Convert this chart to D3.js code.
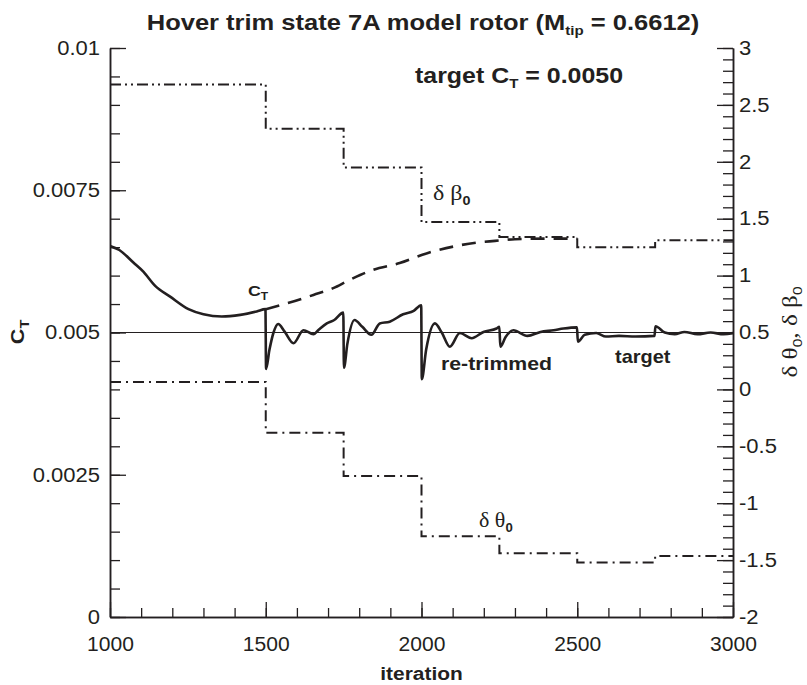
<!DOCTYPE html>
<html><head><meta charset="utf-8">
<script src="https://cdn.jsdelivr.net/npm/d3@7"></script>
<style>html,body{margin:0;padding:0;background:#fff}</style>
</head><body>
<script>
// ---------- data ----------
const ctIter = [1000,1030,1075,1107,1145,1193,1252,1300,1359,1418,1471,1499,
  1501,1512,1525,1540,1560,1589,1621,1653,1670,1696,1720,1749,
  1751,1762,1785,1810,1839,1866,1898,1941,1975,1999,
  2001,2015,2043,2065,2091,2123,2161,2199,2241,2250,
  2253,2270,2295,2340,2382,2424,2456,2499,
  2502,2524,2561,2592,2634,2687,2748,
  2751,2781,2813,2844,2886,2928,2970,3000];
const ctVal = [0.00652,0.00645,0.00623,0.00607,0.00582,0.00563,0.00541,0.00532,0.00528,0.00531,0.00537,0.00541,
  0.00436,0.00470,0.00500,0.00515,0.00502,0.00481,0.00504,0.00497,0.00505,0.00516,0.00522,0.00535,
  0.00438,0.00480,0.00522,0.00510,0.00496,0.00516,0.00519,0.00532,0.00538,0.00548,
  0.00418,0.00470,0.00516,0.00500,0.00475,0.00499,0.00490,0.00501,0.00507,0.00510,
  0.00475,0.00492,0.00504,0.00494,0.00501,0.00504,0.00507,0.00509,
  0.00484,0.00496,0.00499,0.00493,0.00494,0.00493,0.00494,
  0.00511,0.00500,0.00497,0.00501,0.00497,0.00500,0.00497,0.00499];
const predIter = [1500,1567,1653,1717,1764,1803,1844,1930,2016,2102,2177,2236,2300,2400,2500];
const predVal  = [0.00541,0.00551,0.00566,0.00578,0.00591,0.00601,0.00610,0.00622,0.00639,0.00651,0.00658,0.00661,0.00664,0.00665,0.00665];
const stepIter = [1000,1500,1750,2000,2250,2500,2750,3000];
const betaVal  = [2.68,2.29,1.95,1.47,1.34,1.25,1.31];
const thetaVal = [0.065,-0.38,-0.76,-1.29,-1.44,-1.52,-1.465];
const targetCT = 0.005;
const xTicks = [1000,1500,2000,2500,3000];
const xTickLabels = ["1000","1500","2000","2500","3000"];
const leftTicks = [0,0.0025,0.005,0.0075,0.01];
const leftTickLabels = ["0","0.0025","0.005","0.0075","0.01"];
const rightTicks = [-2,-1.5,-1,-0.5,0,0.5,1,1.5,2,2.5,3];
const rightTickLabels = ["-2","-1.5","-1","-0.5","0","0.5","1","1.5","2","2.5","3"];

// ---------- layout ----------
const W = 807, H = 685;
const L = 110, R = 733, T = 48, B = 617;
const ink = "#231f20";
const sans = "'Liberation Sans', Arial, Helvetica, sans-serif";
const serif = "'Liberation Serif', 'Times New Roman', serif";

const svg = d3.select("body").append("svg").attr("width", W).attr("height", H)
  .style("font-family", sans);
svg.append("rect").attr("width", W).attr("height", H).attr("fill", "#fff");

const x = d3.scaleLinear().domain([1000, 3000]).range([L, R]);
const yL = d3.scaleLinear().domain([0, 0.01]).range([B, T]);
const yR = d3.scaleLinear().domain([-2, 3]).range([B, T]);

// ---------- axes ----------
function styleAxis(g, fs, sx) {
  g.select(".domain").attr("stroke", ink).attr("stroke-width", 1.5);
  g.selectAll(".tick line").attr("stroke", ink).attr("stroke-width", 1.3);
  g.selectAll(".tick text").attr("fill", ink).style("font-size", fs + "px").style("font-family", sans)
    .each(function () {
      const t = d3.select(this);
      const xx = +(t.attr("x") || 0);
      t.attr("x", xx / sx).attr("transform", `scale(${sx},1)`);
    });
}
// bottom
const gxMinor = svg.append("g").attr("transform", `translate(0,${B})`)
  .call(d3.axisBottom(x).tickValues(d3.range(1000, 3001, 100)).tickSize(-9).tickSizeOuter(0).tickFormat(""));
styleAxis(gxMinor, 20, 1);
const gx = svg.append("g").attr("transform", `translate(0,${B})`)
  .call(d3.axisBottom(x).tickValues(xTicks).tickSize(-15).tickSizeOuter(0).tickPadding(20)
    .tickFormat((d, i) => xTickLabels[i]));
styleAxis(gx, 19.5, 1.08);
// left
const gyMinor = svg.append("g").attr("transform", `translate(${L},0)`)
  .call(d3.axisLeft(yL).tickValues(d3.range(0, 21).map(i => i * 0.0005)).tickSize(-10).tickSizeOuter(0).tickFormat(""));
styleAxis(gyMinor, 20, 1);
const gy = svg.append("g").attr("transform", `translate(${L},0)`)
  .call(d3.axisLeft(yL).tickValues(leftTicks).tickSize(-16).tickSizeOuter(0).tickPadding(10)
    .tickFormat((d, i) => leftTickLabels[i]));
styleAxis(gy, 19.5, 1.13);
// right
const grMinor = svg.append("g").attr("transform", `translate(${R},0)`)
  .call(d3.axisRight(yR).tickValues(d3.range(0, 51).map(i => -2 + i * 0.1)).tickSize(-10).tickSizeOuter(0).tickFormat(""));
styleAxis(grMinor, 20, 1);
const gr = svg.append("g").attr("transform", `translate(${R},0)`)
  .call(d3.axisRight(yR).tickValues(rightTicks).tickSize(-16).tickSizeOuter(0).tickPadding(6)
    .tickFormat((d, i) => rightTickLabels[i]));
styleAxis(gr, 19.5, 1.13);

// ---------- lines ----------
svg.append("defs").append("clipPath").attr("id", "plot")
  .append("rect").attr("x", L).attr("y", T - 5).attr("width", R - L).attr("height", B - T + 5);
const plot = svg.append("g").attr("clip-path", "url(#plot)");

plot.append("line").attr("x1", x(1000)).attr("x2", x(3000))
  .attr("y1", yL(targetCT)).attr("y2", yL(targetCT))
  .attr("stroke", ink).attr("stroke-width", 1.1);

const stepLine = d3.line().curve(d3.curveStepAfter).x(d => x(d[0])).y(d => yR(d[1]));
const betaPts = stepIter.map((it, i) => [it, betaVal[Math.min(i, betaVal.length - 1)]]);
const thetaPts = stepIter.map((it, i) => [it, thetaVal[Math.min(i, thetaVal.length - 1)]]);
plot.append("path").attr("d", stepLine(betaPts)).attr("fill", "none").attr("stroke", ink)
  .attr("stroke-width", 2).attr("stroke-dasharray", "11,4,2,4,2,4");
plot.append("path").attr("d", stepLine(thetaPts)).attr("fill", "none").attr("stroke", ink)
  .attr("stroke-width", 2).attr("stroke-dasharray", "11,5,2,5");

const ctLine = d3.line().curve(d3.curveMonotoneX).x(d => x(d[0])).y(d => yL(d[1]));
plot.append("path").attr("d", ctLine(predIter.map((it, i) => [it, predVal[i]])))
  .attr("fill", "none").attr("stroke", ink).attr("stroke-width", 2.6).attr("stroke-dasharray", "14,9");
plot.append("path").attr("d", ctLine(ctIter.map((it, i) => [it, ctVal[i]])))
  .attr("fill", "none").attr("stroke", ink).attr("stroke-width", 2.6).attr("stroke-linejoin", "round");

// ---------- text ----------
function stext(px, py, size, sx, opts = {}) {
  const t = svg.append("text")
    .attr("transform", `translate(${px},${py})` + (opts.rotate ? ` rotate(${opts.rotate})` : "") + ` scale(${sx},1)`)
    .attr("text-anchor", opts.anchor || "start").attr("fill", ink)
    .style("font-size", size + "px").style("font-family", opts.family || sans)
    .style("font-weight", opts.bold ? "bold" : "normal");
  return t;
}

const title = stext(423, 30, 22, 1.16, { anchor: "middle", bold: true });
title.append("tspan").text("Hover trim state 7A model rotor (M");
title.append("tspan").text("tip").attr("dy", 5).style("font-size", "13px");
title.append("tspan").text(" = 0.6612)").attr("dy", -5);

const tgt = stext(415, 83, 21.5, 1.16, { bold: true });
tgt.append("tspan").text("target C");
tgt.append("tspan").text("T").attr("dy", 5).style("font-size", "13px");
tgt.append("tspan").text(" = 0.0050").attr("dy", -5);

const ctl = stext(248, 296, 15.5, 1.15, { bold: true });
ctl.append("tspan").text("C");
ctl.append("tspan").text("T").attr("dy", 4).style("font-size", "10.5px");

stext(441, 370, 19, 1.12, { bold: true }).text("re-trimmed");
stext(615, 363, 19, 1.05, { bold: true }).text("target");

const db = stext(433, 200, 20, 1.2, { family: serif });
db.append("tspan").text("δ β");
db.append("tspan").text("0").attr("dy", 5).style("font-size", "12px").style("font-family", sans).style("font-weight", "bold");
const dt = stext(479, 527, 20, 1.1, { family: serif });
dt.append("tspan").text("δ θ");
dt.append("tspan").text("0").attr("dy", 5).style("font-size", "12px").style("font-family", sans).style("font-weight", "bold");

stext((L + R) / 2, 680, 19, 1.1, { anchor: "middle", bold: true }).text("iteration");

const yt = stext(24, 332, 18, 1.2, { anchor: "middle", bold: true, rotate: -90 });
yt.append("tspan").text("C");
yt.append("tspan").text("T").attr("dy", 5).style("font-size", "12px");

const rt = stext(797, 332, 21, 1.2, { anchor: "middle", family: serif, rotate: -90 });
rt.append("tspan").text("δ θ");
rt.append("tspan").text("0").attr("dy", 5).style("font-size", "13px").style("font-family", sans);
rt.append("tspan").text(", δ β").attr("dy", -5);
rt.append("tspan").text("0").attr("dy", 5).style("font-size", "13px").style("font-family", sans);
</script>
</body></html>
